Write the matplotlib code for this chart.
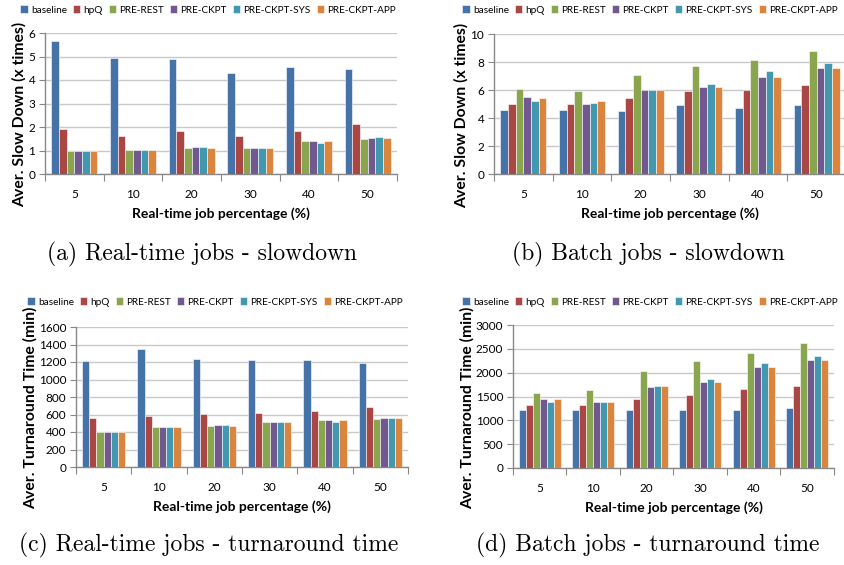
import numpy as np
import matplotlib
matplotlib.use("Agg")
import matplotlib.pyplot as plt

W, H = 845, 565

categories = ["5", "10", "20", "30", "40", "50"]
series = ["baseline", "hpQ", "PRE-REST", "PRE-CKPT", "PRE-CKPT-SYS", "PRE-CKPT-APP"]
colors = ["#4572A7", "#AA4643", "#89A54E", "#71588F", "#4198AF", "#DB843D"]

# (a) real-time jobs - slowdown, one list per series (over categories)
rt_slow_baseline = [5.65, 4.92, 4.88, 4.28, 4.57, 4.48]
rt_slow_hpq = [1.90, 1.62, 1.82, 1.60, 1.82, 2.12]
rt_slow_rest = [1.00, 1.02, 1.12, 1.12, 1.40, 1.50]
rt_slow_ckpt = [1.00, 1.02, 1.14, 1.12, 1.40, 1.53]
rt_slow_sys = [1.00, 1.02, 1.14, 1.12, 1.33, 1.57]
rt_slow_app = [1.00, 1.02, 1.12, 1.12, 1.40, 1.53]

# (b) batch jobs - slowdown
bt_slow_baseline = [4.57, 4.58, 4.52, 4.95, 4.69, 4.93]
bt_slow_hpq = [4.98, 5.02, 5.45, 5.95, 6.02, 6.38]
bt_slow_rest = [6.05, 5.90, 7.10, 7.74, 8.17, 8.79]
bt_slow_ckpt = [5.50, 5.02, 6.00, 6.24, 6.90, 7.55]
bt_slow_sys = [5.21, 5.10, 6.02, 6.40, 7.33, 7.90]
bt_slow_app = [5.45, 5.19, 6.02, 6.24, 6.95, 7.60]

# (c) real-time jobs - turnaround time (min)
rt_turn_baseline = [1208, 1349, 1230, 1223, 1223, 1185]
rt_turn_hpq = [556, 587, 606, 621, 640, 690]
rt_turn_rest = [400, 455, 472, 520, 533, 549]
rt_turn_ckpt = [400, 455, 480, 520, 533, 556]
rt_turn_sys = [400, 455, 480, 520, 514, 564]
rt_turn_app = [400, 455, 472, 520, 533, 556]

# (d) batch jobs - turnaround time (min)
bt_turn_baseline = [1220, 1214, 1214, 1214, 1214, 1256]
bt_turn_hpq = [1312, 1326, 1458, 1528, 1654, 1730]
bt_turn_rest = [1577, 1640, 2037, 2240, 2414, 2617]
bt_turn_ckpt = [1444, 1382, 1702, 1814, 2128, 2261]
bt_turn_sys = [1389, 1382, 1710, 1877, 2205, 2352]
bt_turn_app = [1444, 1382, 1723, 1814, 2121, 2261]

plt.rcParams["font.family"] = ["Lato", "DejaVu Sans"]
GRID = "#c8c8c8"
SPINE = "#888888"


def px_axes(fig, left, right, top, bottom):
    return fig.add_axes([left / W, 1 - bottom / H, (right - left) / W, (bottom - top) / H])


def draw_panel(fig, box, data, ymax, ystep, ylabel, legend_xy, caption, caption_xy):
    ax = px_axes(fig, *box)
    x = np.arange(len(categories))
    width = 0.131
    handles = []
    for i, (vals, color) in enumerate(zip(data, colors)):
        offset = (i - 2.5) * width
        bars = ax.bar(x + offset, vals, width, color=color, edgecolor="white",
                      linewidth=0.4, zorder=3)
        handles.append(bars)

    ax.set_xlim(-0.5, len(categories) - 0.5)
    ax.set_ylim(0, ymax)
    ax.set_yticks(np.arange(0, ymax + ystep / 2, ystep))
    ax.yaxis.grid(True, color=GRID, linewidth=1.0, zorder=0)
    ax.set_axisbelow(True)

    ax.set_xticks(np.arange(-0.5, len(categories), 1.0))
    ax.set_xticklabels([])
    ax.set_xticks(x, minor=True)
    ax.set_xticklabels(categories, minor=True)
    ax.tick_params(axis="x", which="major", length=5, color=SPINE, direction="out")
    ax.tick_params(axis="x", which="minor", length=0, pad=11, labelsize=8.5)
    ax.tick_params(axis="y", length=4, color=SPINE, direction="out", labelsize=8.5, pad=3)

    for side in ("top", "right"):
        ax.spines[side].set_visible(False)
    for side in ("left", "bottom"):
        ax.spines[side].set_color(SPINE)
        ax.spines[side].set_linewidth(1.0)

    ax.set_xlabel("Real-time job percentage (%)", fontsize=10, fontweight="bold", labelpad=5)
    ax.set_ylabel(ylabel, fontsize=11.3, fontweight="bold", labelpad=1, y=0.42)

    fig.legend(handles, series, loc="center", ncol=6, frameon=False,
               bbox_to_anchor=(legend_xy[0] / W, 1 - legend_xy[1] / H),
               fontsize=7.2, handlelength=0.75, handleheight=0.75,
               handletextpad=0.3, columnspacing=0.6, borderpad=0)

    fig.text(caption_xy[0] / W, 1 - caption_xy[1] / H, caption, family="cmr10",
             fontsize=17, ha="center", va="center")
    return ax


fig = plt.figure(figsize=(W / 100, H / 100), dpi=100)

draw_panel(fig, (45, 397, 33, 174),
           [rt_slow_baseline, rt_slow_hpq, rt_slow_rest, rt_slow_ckpt, rt_slow_sys, rt_slow_app],
           6, 1, "Aver. Slow Down (x times)", (208, 10),
           "(a) Real-time jobs - slowdown", (202, 254))

draw_panel(fig, (494, 846, 34, 174),
           [bt_slow_baseline, bt_slow_hpq, bt_slow_rest, bt_slow_ckpt, bt_slow_sys, bt_slow_app],
           10, 2, "Aver. Slow Down (x times)", (650, 10),
           "(b) Batch jobs - slowdown", (648, 254))

draw_panel(fig, (76, 408, 327, 467),
           [rt_turn_baseline, rt_turn_hpq, rt_turn_rest, rt_turn_ckpt, rt_turn_sys, rt_turn_app],
           1600, 200, "Aver. Turnaround Time (min)", (215, 302),
           "(c) Real-time jobs - turnaround time", (209, 545))

draw_panel(fig, (513, 834, 325, 468),
           [bt_turn_baseline, bt_turn_hpq, bt_turn_rest, bt_turn_ckpt, bt_turn_sys, bt_turn_app],
           3000, 500, "Aver. Turnaround Time (min)", (650, 302),
           "(d) Batch jobs - turnaround time", (648, 545))

fig.savefig("out.png", dpi=100, facecolor="white")
